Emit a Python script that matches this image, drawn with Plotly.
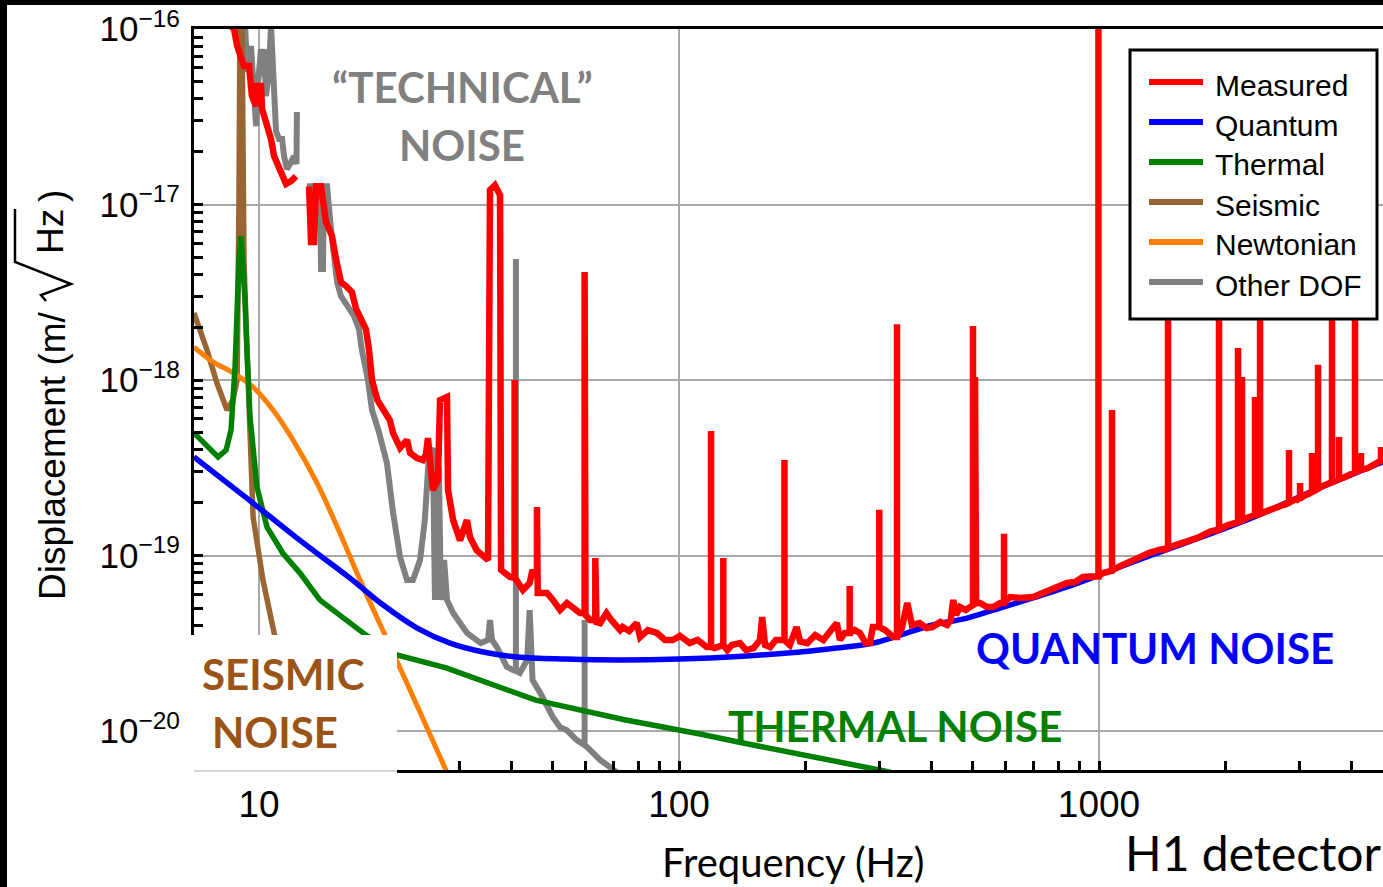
import plotly.graph_objects as go

# ---------------------------------------------------------------------------
# H1 displacement noise budget (frequency in Hz, displacement in m/sqrt(Hz))
# ---------------------------------------------------------------------------

# Measured spectrum: broadband floor (None marks a break in the trace)
measured_freq = [
    8.53, 8.72, 8.87, 9.21, 9.47, 9.62, 9.84, 9.89, 10.11, 10.17, 10.39, 10.68, 10.86, 11.04, 11.28, 11.60, 11.92, 12.25, 12.66,
    13.16, 13.30, 13.52, 13.67, 14.05, 14.44, 14.68, 14.92, 15.25, 15.67, 16.11, 16.64, 17.03, 17.56, 17.97, 18.27, 18.58,
    19.13, 19.73, 20.48, 20.86, 21.67, 22.51, 22.89, 23.77, 24.56, 24.96, 25.25, 25.54, 25.95, 26.67, 26.98, 28.03, 28.19,
    28.99, 30.11, 31.27, 31.80, 33.0, 34.2, 35.1, 35.48, 36.45, 37.49, 37.7, 38.5, 39.6, 41.0, 42.5, 44.1, 44.8, 45.6, 46.1, 47.3, 48.5,
    50.1, 52.1, 54.1, 55.9, 58.1, 59.9, 61.4, 63.6, 64.9, 67.2, 69.0, 72.4, 73.4, 76.1, 79.3, 80.8, 84.3, 88.6, 92.6, 96.7,
    100.5, 106.1, 110.7, 116.4, 121.5, 125.2, 130.3, 133.6, 139.7, 144.4, 150.5, 155.9, 157.8, 160.3, 164.9, 170.0, 183.6, 190.5, 194.2,
    202.1, 211.0, 220.7, 229.2, 237.6, 241.6, 248.1, 262.0, 269.5, 278.2, 284.9, 289.3, 309.5, 323.5, 339.3, 349.6, 358.5, 374.0, 388.8,
    401.0, 419.0, 434.9, 443.6, 449.7, 456.5, 466.7, 481.6, 509.6, 520.9, 541.2, 559.3, 581.3, 614.1, 648.6, 696.5, 731.6, 764.4,
    798.6, 838.9, 876.9, 915.8, 951.9, 1022, 1080, 1122, 1205, 1252, 1323, 1397, 1492, 1559, 1647, 1740, 1838, 2028, 2239, 2554,
    2698, 2929, 3094, 3396, 3853, 4370, 4797,
]
measured_disp = [
    1.05e-16, 1.0e-16, 8.0e-17, 6.15e-17, 6.15e-17, 4.15e-17, 3.64e-17, 4.73e-17, 4.73e-17, 3.50e-17, 2.95e-17, 2.36e-17, 1.89e-17, 1.75e-17, 1.53e-17, 1.31e-17, 1.36e-17, 1.45e-17, None,
    1.27e-17, 6.11e-18, 6.11e-18, 1.27e-17, 1.27e-17, 7.95e-18, 7.25e-18, 6.61e-18, 4.89e-18, 3.62e-18, 3.43e-18, 3.17e-18, 2.54e-18, 2.23e-18, 1.95e-18, 1.50e-18, 1.0e-18,
    7.69e-19, 6.75e-19, 5.92e-19, 4.99e-19, 4.10e-19, 4.55e-19, 3.84e-19, 3.59e-19, 3.50e-19, 3.74e-19, 4.67e-19, 3.50e-19, 2.36e-19, 2.69e-19, 7.69e-19, 8.0e-19, 2.36e-19,
    1.59e-19, 1.22e-19, 1.59e-19, 1.27e-19, 1.07e-19, 9.8e-20, 9.43e-20, 1.21e-17, 1.29e-17, 1.13e-17, 8.27e-20, 7.95e-20, 7.54e-20, 7.25e-20, 6.36e-20, 6.97e-20, 8.27e-20, 7.74e-20, 6.11e-20, 6.11e-20, 6.11e-20,
    5.58e-20, 4.89e-20, 5.36e-20, 5.09e-20, 4.70e-20, 4.58e-20, 4.29e-20, 4.18e-20, 4.12e-20, 4.70e-20, 4.29e-20, 3.76e-20, 3.91e-20, 3.71e-20, 4.12e-20, 3.43e-20, 3.76e-20, 3.62e-20, 3.30e-20, 3.30e-20,
    3.48e-20, 3.17e-20, 3.30e-20, 3.01e-20, 2.97e-20, 3.09e-20, 2.89e-20, 3.09e-20, 3.17e-20, 2.89e-20, 2.97e-20, 3.30e-20, 4.46e-20, 3.09e-20, 3.01e-20, 3.30e-20, 3.09e-20, 3.91e-20, 3.24e-20,
    3.17e-20, 3.52e-20, 3.30e-20, 3.71e-20, 4.12e-20, 3.30e-20, 3.62e-20, 3.76e-20, 3.62e-20, 3.17e-20, 3.17e-20, 3.91e-20, 3.76e-20, 3.43e-20, 3.86e-20, 5.36e-20, 4.02e-20, 4.12e-20, 3.86e-20,
    3.91e-20, 4.18e-20, 4.02e-20, 4.29e-20, 5.58e-20, 4.58e-20, 5.09e-20, 4.89e-20, 5.36e-20, 5.36e-20, 5.09e-20, 5.09e-20, 5.36e-20, 5.80e-20, 5.73e-20, 5.80e-20, 6.11e-20, 6.36e-20,
    6.57e-20, 6.97e-20, 7.06e-20, 7.54e-20, 7.60e-20, 7.95e-20, 8.27e-20, 8.71e-20, 9.43e-20, 9.93e-20, 1.04e-19, 1.08e-19, 1.13e-19, 1.16e-19, 1.22e-19, 1.28e-19, 1.37e-19, 1.49e-19, 1.63e-19, 1.82e-19,
    1.92e-19, 2.08e-19, 2.20e-19, 2.48e-19, 2.80e-19, 3.15e-19, 3.55e-19,
]

# Measured spectrum: narrow lines (frequency, floor under the line, line peak)
measured_line_freq = [40.6, 45.9, 59.6, 63.2, 119.2, 127.5, 178.3, 254.9, 299.8, 330.4, 501.2, 506.8, 594.0, 997, 1003, 1074,
                      1460, 1931, 2143, 2190, 2352, 2418, 2834, 3011, 3215, 3323, 3587, 3727, 4070, 4205, 4693]
measured_line_base = [7.44e-20, 7.74e-20, 4.70e-20, 4.29e-20, 3.01e-20, 3.09e-20, 3.30e-20, 3.62e-20, 3.91e-20, 3.43e-20, 5.22e-20, 5.30e-20, 5.36e-20, 7.60e-20, 7.70e-20, 8.20e-20,
                      1.10e-19, 1.41e-19, 1.55e-19, 1.58e-19, 1.70e-19, 1.73e-19, 2.00e-19, 2.12e-19, 2.30e-19, 2.40e-19, 2.62e-19, 2.72e-19, 2.98e-19, 3.07e-19, 3.47e-19]
measured_line_peak = [1.0e-18, 1.89e-19, 4.12e-18, 9.67e-20, 5.12e-19, 9.67e-20, 3.50e-19, 6.70e-20, 1.82e-19, 2.08e-18, 2.03e-18, 1.04e-18, 1.33e-19, 1.2e-16, 1.2e-16, 6.75e-19,
                      1.5e-17, 1.5e-17, 1.52e-18, 1.04e-18, 8.0e-19, 1.5e-17, 3.99e-19, 2.59e-19, 3.84e-19, 1.22e-18, 1.5e-17, 4.73e-19, 1.5e-17, 3.84e-19, 4.15e-19]

# Quantum noise
quantum_freq = [7.0, 8.53, 10.0, 12.52, 16.47, 19.76, 23.8, 28.5, 34.2, 41.1, 54.0, 72.4, 100, 142, 194,
                237, 290, 336, 402, 485, 581, 696, 839, 1000, 1205, 2240, 3360, 4745]
quantum_disp = [3.64e-19, 2.52e-19, 1.87e-19, 1.22e-19, 7.44e-20, 5.22e-20, 3.86e-20, 3.17e-20, 2.82e-20, 2.64e-20, 2.57e-20, 2.54e-20, 2.57e-20, 2.67e-20, 2.82e-20,
                2.97e-20, 3.17e-20, 3.52e-20, 4.02e-20, 4.40e-20, 5.02e-20, 5.73e-20, 6.62e-20, 7.74e-20, 9.18e-20, 1.59e-19, 2.43e-19, 3.42e-19]

# Thermal noise (suspension resonance near 9 Hz)
thermal_freq = [7.0, 7.52, 7.99, 8.35, 8.58, 8.77, 8.86, 8.96, 9.06, 9.16, 9.26, 9.36, 9.52, 9.89, 10.45,
                11.40, 12.52, 13.97, 17.98, 21.3, 27.9, 45.6, 74.2, 112.2, 142.0, 300.0, 320.0]
thermal_disp = [5.0e-19, 4.15e-19, 3.64e-19, 3.99e-19, 5.19e-19, 1.19e-18, 2.86e-18, 4.83e-18, 6.62e-18, 4.83e-18, 2.86e-18, 1.48e-18, 6.15e-19, 2.45e-19, 1.45e-19,
                1.03e-19, 7.94e-20, 5.57e-20, 3.52e-20, 2.71e-20, 2.29e-20, 1.50e-20, 1.16e-20, 9.62e-21, 8.55e-21, 6.0e-21, 5.8e-21]

# Seismic noise
seismic_freq = [7.0, 7.52, 7.94, 8.39, 8.67, 8.87, 8.96, 9.01, 9.11, 9.16, 9.21, 9.31, 9.52, 9.68, 10.22, 10.45, 10.92, 12.73, 13.23]
seismic_disp = [2.41e-18, 1.48e-18, 9.61e-19, 6.75e-19, 7.69e-19, 1.0e-18, 1.06e-17, 1.15e-16, 1.15e-16, 2.04e-17, 4.83e-18, 2.20e-18, 4.99e-19, 1.66e-19,
                7.24e-20, 5.58e-20, 3.52e-20, 5.99e-21, 4.05e-21]

# Newtonian (gravity-gradient) noise
newtonian_freq = [7.0, 7.77, 8.67, 9.68, 10.80, 12.05, 13.74, 15.59, 17.40, 19.31, 21.31, 24.18, 27.87, 30.11]
newtonian_disp = [1.54e-18, 1.27e-18, 1.10e-18, 9.12e-19, 6.75e-19, 4.55e-19, 2.59e-19, 1.34e-19, 7.24e-20, 4.18e-20, 2.50e-20, 1.28e-20, 5.99e-21, 4.05e-21]

# Other degrees of freedom (auxiliary control loops)
other_freq = [
    9.26, 9.36, 9.57, 9.62, 9.84, 9.89, 10.11, 10.17, 10.28, 10.39, 10.56, 10.68, 10.80, 10.98, 11.16, 11.35, 11.47, 11.66, 11.92, 12.12, 12.28, 12.31, 12.7,
    13.01, 13.97, 14.05, 14.20, 14.28, 14.52, 14.84, 15.09, 15.34, 15.67, 16.20, 16.83, 17.30, 17.56, 18.17, 18.58, 19.24, 20.16, 20.86, 21.67,
    22.51, 23.26, 24.18, 24.82, 25.39, 25.95, 26.24, 26.53, 26.82, 27.11, 27.59, 28.03, 28.99, 30.11, 31.27, 33.7, 35.1, 35.48, 35.87, 36.84,
    38.9, 40.2, 41.8, 43.5, 44.1, 44.8, 46.7, 48.5, 50.1, 52.1, 54.1, 57.1, 59.0, 60.4, 62.3, 64.9, 69.0, 72.4,
]
other_disp = [
    1.15e-16, 5.69e-17, 8.0e-17, 6.49e-17, 2.80e-17, 4.15e-17, 7.69e-17, 5.40e-17, 7.69e-17, 4.15e-17, 5.69e-17, 1.05e-16, 5.19e-17, 2.62e-17, 2.36e-17, 2.36e-17, 1.89e-17, 1.59e-17, 1.75e-17, 1.89e-17, 1.70e-17, 3.37e-17, None,
    1.27e-17, 1.27e-17, 4.29e-18, 4.29e-18, 1.27e-17, 1.27e-17, 7.25e-18, 4.70e-18, 3.62e-18, 3.01e-18, 2.64e-18, 2.32e-18, 1.95e-18, 1.50e-18, 1.0e-18, 6.75e-19, 5.19e-19, 3.37e-19, 1.75e-19, 9.8e-20,
    7.25e-20, 7.25e-20, 9.43e-20, 1.59e-19, 3.74e-19, 4.10e-19, 5.58e-20, 3.07e-19, 3.07e-19, 5.58e-20, 9.43e-20, 5.58e-20, 4.70e-20, 4.12e-20, 3.62e-20, 3.17e-20, 3.30e-20, 4.29e-20, 3.30e-20, 3.01e-20,
    2.32e-20, 2.23e-20, 2.14e-20, 2.54e-20, 4.89e-20, 1.95e-20, 1.65e-20, 1.37e-20, 1.20e-20, 1.05e-20, 1.01e-20, 8.88e-21, 8.32e-21, 8.11e-21, 7.49e-21, 6.84e-21, 6.15e-21, 5.62e-21,
]
other_line_freq = [40.9, 59.6]
other_line_base = [2.2e-20, 8.3e-21]
other_line_peak = [4.89e-18, 4.29e-20]

series_names = ["Measured", "Quantum", "Thermal", "Seismic", "Newtonian", "Other DOF"]

# Axis ticks
freq_ticks = [10, 100, 1000]
freq_tick_labels = ["10", "100", "1000"]
disp_ticks = [1e-20, 1e-19, 1e-18, 1e-17, 1e-16]
disp_tick_exponents = [-20, -19, -18, -17, -16]

COLORS = {
    "Measured": "#ff0000",
    "Quantum": "#0000ff",
    "Thermal": "#008000",
    "Seismic": "#996633",
    "Newtonian": "#ff8000",
    "Other DOF": "#808080",
}
WIDTHS = {"Measured": 6.5, "Quantum": 5.5, "Thermal": 5.5, "Seismic": 5.5, "Newtonian": 5, "Other DOF": 6}


def with_lines(freq, disp, line_freq, line_base, line_peak):
    """Insert each narrow line as a vertical excursion floor -> peak -> floor."""
    pts = [(f, 0, v) for f, v in zip(freq, disp)]
    for f, b, p in zip(line_freq, line_base, line_peak):
        pts += [(f, 1, b), (f, 2, p), (f, 3, b)]
    pts.sort(key=lambda t: (t[0], t[1]))
    return [t[0] for t in pts], [t[2] for t in pts]


meas_x, meas_y = with_lines(measured_freq, measured_disp, measured_line_freq, measured_line_base, measured_line_peak)
other_x, other_y = with_lines(other_freq, other_disp, other_line_freq, other_line_base, other_line_peak)

curves = {
    "Other DOF": (other_x, other_y, "linear"),
    "Seismic": (seismic_freq, seismic_disp, "linear"),
    "Newtonian": (newtonian_freq, newtonian_disp, "spline"),
    "Thermal": (thermal_freq, thermal_disp, "linear"),
    "Quantum": (quantum_freq, quantum_disp, "spline"),
    "Measured": (meas_x, meas_y, "linear"),
}

fig = go.Figure()
for name, (xs, ys, shape) in curves.items():
    fig.add_trace(go.Scatter(
        x=xs, y=ys, mode="lines", name=name,
        line=dict(color=COLORS[name], width=WIDTHS[name], shape=shape, smoothing=1.0),
        connectgaps=False, showlegend=False, hoverinfo="skip",
    ))

# Canvas geometry (pixels) of the plotting area
W, H = 1383, 887
L, R, T, B = 194, 1383, 29, 770


def px(x):
    return (x - L) / (R - L)


def py(y):
    return (B - y) / (B - T)


LABEL_FONT = "Lato"

shapes = []
annotations = []

# Outer dark frame on the left and top edges
shapes.append(dict(type="rect", xref="paper", yref="paper", x0=px(-10), x1=px(7), y0=py(H + 10), y1=py(-10),
                   fillcolor="black", line=dict(width=0), layer="above"))
shapes.append(dict(type="rect", xref="paper", yref="paper", x0=px(-10), x1=px(W + 10), y0=py(5), y1=py(-10),
                   fillcolor="black", line=dict(width=0), layer="above"))

# White panel behind the seismic label
shapes.append(dict(type="rect", xref="paper", yref="paper", x0=px(190), x1=px(397), y0=py(774), y1=py(635),
                   fillcolor="white", line=dict(width=0), layer="above"))
shapes.append(dict(type="line", xref="paper", yref="paper", x0=px(194), x1=px(397), y0=py(771), y1=py(771),
                   line=dict(color="#c8c8c8", width=1.5), layer="above"))

# Legend box
shapes.append(dict(type="rect", xref="paper", yref="paper", x0=px(1130), x1=px(1377), y0=py(319), y1=py(50),
                   fillcolor="white", line=dict(color="black", width=3), layer="above"))
for i, name in enumerate(series_names):
    yrow = 82 + 40 * i
    shapes.append(dict(type="line", xref="paper", yref="paper", x0=px(1149), x1=px(1203), y0=py(yrow), y1=py(yrow),
                       line=dict(color=COLORS[name], width=6), layer="above"))
    annotations.append(dict(text=name, xref="paper", yref="paper", x=px(1213), y=py(yrow + 3),
                            xanchor="left", yanchor="middle", showarrow=False,
                            font=dict(family="Liberation Sans", size=30, color="black")))


# In-plot labels
def label(text, x, y, color, size=42, bold=True, family=LABEL_FONT):
    annotations.append(dict(text=f"<b>{text}</b>" if bold else text, xref="paper", yref="paper",
                            x=px(x), y=py(y), xanchor="center", yanchor="middle", showarrow=False,
                            font=dict(family=family, size=size, color=color)))


label("\u201cTECHNICAL\u201d", 462, 87, "#808080")
label("NOISE", 462, 145, "#808080")
label("SEISMIC", 283, 674, "#9a5417")
label("NOISE", 275, 732, "#9a5417")
label("QUANTUM NOISE", 1155, 648, "#0000ff")
label("THERMAL NOISE", 895, 726, "#008000")
label("H1 detector", 1253, 852, "black", size=48, bold=False)
label("Frequency (Hz)", 793, 862, "black", size=40, bold=False)

# Vertical axis title, with a drawn radical over "Hz"
AX_FONT = dict(family="Liberation Sans", size=37, color="black")
annotations.append(dict(text="Displacement (m/", xref="paper", yref="paper", x=px(52), y=py(456),
                        xanchor="center", yanchor="middle", textangle=-90, showarrow=False, font=AX_FONT))
annotations.append(dict(text="Hz", xref="paper", yref="paper", x=px(50), y=py(232),
                        xanchor="center", yanchor="middle", textangle=-90, showarrow=False, font=AX_FONT))
annotations.append(dict(text=")", xref="paper", yref="paper", x=px(52), y=py(196),
                        xanchor="center", yanchor="middle", textangle=-90, showarrow=False, font=AX_FONT))
radical = [(46, 301), (41, 295), (71, 284), (15, 262), (15, 209)]
radical_path = "M " + " L ".join(f"{px(a):.5f},{py(b):.5f}" for a, b in radical)
shapes.append(dict(type="path", xref="paper", yref="paper", path=radical_path,
                   line=dict(color="black", width=2.5), layer="above"))

sup_labels = [f"10<sup>\u2212{abs(e)}</sup>" for e in disp_tick_exponents]

fig.update_layout(
    width=W, height=H,
    margin=dict(l=L, r=W - R, t=T, b=H - B),
    paper_bgcolor="white", plot_bgcolor="white",
    showlegend=False,
    shapes=shapes, annotations=annotations,
    xaxis=dict(
        type="log", range=[0.84524, 3.67619],
        tickmode="array", tickvals=freq_ticks, ticktext=freq_tick_labels,
        showgrid=True, gridcolor="#a8a8a8", gridwidth=1.5, zeroline=False,
        showline=True, linecolor="black", linewidth=3, mirror=True,
        ticks="inside", ticklen=9, tickwidth=2.5, tickcolor="black",
        minor=dict(ticks="inside", ticklen=9, tickwidth=2.5, tickcolor="black", showgrid=False,
                   tickvals=[8, 9, 20, 30, 40, 50, 60, 70, 80, 90, 200, 300, 400, 500, 600, 700, 800, 900,
                             2000, 3000, 4000]),
        tickfont=dict(family="Liberation Sans", size=37, color="black"), ticklabelstandoff=0,
    ),
    yaxis=dict(
        type="log", range=[-20.2222, -15.9998],
        tickmode="array", tickvals=disp_ticks, ticktext=sup_labels,
        showgrid=True, gridcolor="#a8a8a8", gridwidth=1.5, zeroline=False,
        showline=True, linecolor="black", linewidth=3, mirror=False,
        ticks="inside", ticklen=9, tickwidth=2.5, tickcolor="black",
        minor=dict(ticks="inside", ticklen=9, tickwidth=2.5, tickcolor="black", showgrid=False,
                   tickvals=[m * 10.0 ** e for e in (-20, -19, -18, -17) for m in range(2, 10)]),
        tickfont=dict(family="Liberation Sans", size=35, color="black"), ticklabelstandoff=4,
    ),
)

fig.write_html("out.html")
